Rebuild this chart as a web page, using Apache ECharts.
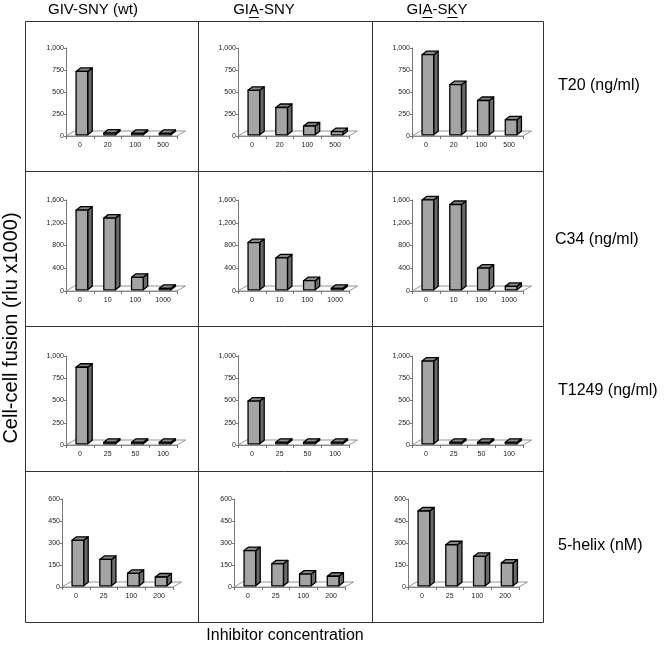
<!DOCTYPE html>
<html><head><meta charset="utf-8">
<script src="https://cdn.jsdelivr.net/npm/echarts@6/dist/echarts.min.js"></script>
<style>html,body{margin:0;padding:0;background:#fff}#c{width:664px;height:645px}</style>
</head><body><div id="c"></div>
<script>
// ---- data ----
const columnTitles = ["GIV-SNY (wt)", "GIA-SNY", "GIA-SKY"];
const columnUnderlined = [[], [2], [2, 5]];   // character indexes that are underlined
const rowTitles = ["T20 (ng/ml)", "C34 (ng/ml)", "T1249 (ng/ml)", "5-helix (nM)"];
const yTitle = "Cell-cell fusion (rlu x1000)";
const xTitle = "Inhibitor concentration";

const categoriesT20 = ["0", "20", "100", "500"];
const categoriesC34 = ["0", "10", "100", "1000"];
const categoriesT1249 = ["0", "25", "50", "100"];
const categories5Helix = ["0", "25", "100", "200"];

const t20Wt = [720, 20, 4, 4];
const t20Sny = [505, 310, 100, 35];
const t20Sky = [910, 570, 390, 170];
const c34Wt = [1400, 1260, 220, 25];
const c34Sny = [830, 560, 160, 20];
const c34Sky = [1580, 1500, 380, 60];
const t1249Wt = [860, 5, 4, 4];
const t1249Sny = [480, 5, 4, 4];
const t1249Sky = [930, 5, 4, 4];
const helixWt = [310, 180, 85, 60];
const helixSny = [240, 150, 80, 65];
const helixSky = [510, 280, 200, 155];

const yMax = [1000, 1600, 1000, 600];
const yStep = [250, 400, 250, 150];

// ---- assembly ----
const rowCategories = [categoriesT20, categoriesC34, categoriesT1249, categories5Helix];
const panelValues = [
  [t20Wt, t20Sny, t20Sky],
  [c34Wt, c34Sny, c34Sky],
  [t1249Wt, t1249Sny, t1249Sky],
  [helixWt, helixSny, helixSky]
];

const FONT = '"Liberation Sans", Arial, sans-serif';
const colLines = [25.5, 198.5, 372.5, 543.5];
const rowLines = [21.5, 171.5, 326.5, 471.5, 622.5];
const axisLeft = [[66, 238, 412], [66, 238, 412], [66, 238, 412], [62, 234, 408]];
const axisTop = [48, 200, 356, 499];
const axisBottom = [136, 291, 445, 587];
const plotW = 111;

function fmt(v) { return String(v).replace(/\B(?=(\d{3})+(?!\d))/g, ','); }

function renderFloor(params, api) {
  const cs = params.coordSys;
  const y0 = api.coord([0, 0])[1];
  const x0 = cs.x, x1 = cs.x + cs.width;
  const dx = 8.5, dy = 5;
  return {
    type: 'polygon',
    shape: { points: [[x0, y0], [x1, y0], [x1 + dx, y0 - dy], [x0 + dx, y0 - dy]] },
    style: { fill: '#fff', stroke: '#7a7a7a', lineWidth: 0.8 }
  };
}

function renderBar(params, api) {
  const i = api.value(0), v = api.value(1);
  const base = api.coord([i, 0]);
  const top = api.coord([i, v]);
  const bw = api.size([1, 0])[0] * 0.42;
  const ox = 2, oy = -1.2, dx = 4.5, dy = 3.5;
  const xl = base[0] - bw / 2 + ox, xr = xl + bw;
  const yb = base[1] + oy;
  const yt = Math.min(top[1] + oy, yb - 1.5);
  const st = { stroke: '#000', lineWidth: 1.3, lineJoin: 'round' };
  return {
    type: 'group',
    children: [
      { type: 'polygon', shape: { points: [[xr, yb], [xr + dx, yb - dy], [xr + dx, yt - dy], [xr, yt]] },
        style: Object.assign({ fill: '#6a6a6a' }, st) },
      { type: 'polygon', shape: { points: [[xl, yt], [xr, yt], [xr + dx, yt - dy], [xl + dx, yt - dy]] },
        style: Object.assign({ fill: '#888888' }, st) },
      { type: 'rect', shape: { x: xl, y: yt, width: bw, height: yb - yt },
        style: Object.assign({ fill: '#a4a4a4' }, st) }
    ]
  };
}

const grid = [], xAxis = [], yAxis = [], series = [];
for (let r = 0; r < 4; r++) {
  for (let c = 0; c < 3; c++) {
    const idx = r * 3 + c;
    grid.push({ left: axisLeft[r][c], top: axisTop[r], width: plotW, height: axisBottom[r] - axisTop[r] });
    xAxis.push({
      type: 'category', gridIndex: idx, data: rowCategories[r],
      axisLine: { show: true, lineStyle: { color: '#7a7a7a', width: 0.8 } },
      axisTick: { show: true, length: 3, lineStyle: { color: '#555', width: 0.8 } },
      axisLabel: { fontSize: 7, color: '#222', margin: 6, fontFamily: FONT }
    });
    yAxis.push({
      type: 'value', gridIndex: idx, min: 0, max: yMax[r], interval: yStep[r],
      splitLine: { show: false },
      axisLine: { show: true, lineStyle: { color: '#555', width: 0.8 } },
      axisTick: { show: true, length: 2, lineStyle: { color: '#555', width: 0.8 } },
      axisLabel: { fontSize: 7, color: '#222', margin: 2, fontFamily: FONT, formatter: fmt }
    });
    series.push({
      type: 'custom', xAxisIndex: idx, yAxisIndex: idx, silent: true,
      data: [[0, 0]], renderItem: renderFloor, z: 1
    });
    series.push({
      type: 'custom', xAxisIndex: idx, yAxisIndex: idx, silent: true,
      data: panelValues[r][c].map((v, i) => [i, v]),
      encode: { x: 0, y: 1 }, renderItem: renderBar, z: 3
    });
  }
}

// ---- graphic: frame, headers, titles ----
const graphic = [];
const LS = { stroke: '#333', lineWidth: 1 };
colLines.forEach(x => graphic.push({ type: 'line', shape: { x1: x, y1: rowLines[0], x2: x, y2: rowLines[4] }, style: LS, silent: true }));
rowLines.forEach(y => graphic.push({ type: 'line', shape: { x1: colLines[0], y1: y, x2: colLines[3], y2: y }, style: LS, silent: true }));

const HF = '15px ' + FONT;
const RF = '16px ' + FONT;
const YF = '20px ' + FONT;
const mctx = document.createElement('canvas').getContext('2d');
mctx.font = HF;
const headerCenters = [93, 264, 437];
const headerY = 10;
columnTitles.forEach((t, c) => {
  graphic.push({ type: 'text', x: headerCenters[c], y: headerY, silent: true,
    style: { text: t, font: HF, fill: '#000', align: 'center', verticalAlign: 'middle' } });
  const w = mctx.measureText(t).width;
  const x0 = headerCenters[c] - w / 2;
  columnUnderlined[c].forEach(k => {
    const a = x0 + mctx.measureText(t.slice(0, k)).width;
    const b = x0 + mctx.measureText(t.slice(0, k + 1)).width;
    graphic.push({ type: 'line', silent: true, shape: { x1: a, y1: headerY + 7.5, x2: b, y2: headerY + 7.5 },
      style: { stroke: '#000', lineWidth: 1 } });
  });
});

const rowLabelY = [86, 240, 391, 546];
const rowLabelX = [558, 555, 558, 558];
rowTitles.forEach((t, r) => graphic.push({ type: 'text', x: rowLabelX[r], y: rowLabelY[r], silent: true,
  style: { text: t, font: RF, fill: '#000', align: 'left', verticalAlign: 'middle' } }));

graphic.push({ type: 'text', x: 11, y: 328, rotation: Math.PI / 2, silent: true,
  style: { text: yTitle, font: YF, fill: '#000', align: 'center', verticalAlign: 'middle' } });
graphic.push({ type: 'text', x: 285, y: 636, silent: true,
  style: { text: xTitle, font: RF, fill: '#000', align: 'center', verticalAlign: 'middle' } });

const chart = echarts.init(document.getElementById('c'), null, { renderer: 'canvas' });
chart.setOption({
  animation: false,
  backgroundColor: '#fff',
  grid, xAxis, yAxis, series, graphic
});
</script>
</body></html>
